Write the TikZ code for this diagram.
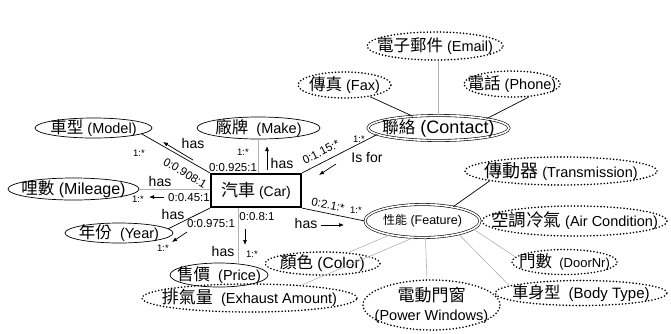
\documentclass[tikz,border=0pt]{standalone}
\usepackage{fontspec}
\setmainfont{Liberation Sans}
\newfontfamily\cjk{Noto Sans CJK TC}
\usetikzlibrary{shapes.geometric,arrows.meta}
\newcommand\zh[2][16.5]{{\cjk\fontsize{#1}{#1}\selectfont #2}}
\tikzset{
 ell/.style={ellipse, draw, line width=0.7pt, inner sep=0pt},
 dbl/.style={ellipse, draw, double, double distance=1.6pt, line width=0.6pt, inner sep=0pt},
 dotell/.style={ellipse, draw, line width=1.8pt, line cap=round, dash pattern=on 0pt off 3.3pt, inner sep=0pt},
 blk/.style={line width=0.7pt},
 gry/.style={line width=0.6pt, draw=black!30},
 arr/.style={-{Latex[length=5pt,width=4pt]}, line width=0.7pt},
 hs/.style={font=\fontsize{14}{16}\selectfont, inner sep=0pt},
 num/.style={font=\fontsize{11.5}{13}\selectfont, inner sep=0pt},
 card/.style={font=\fontsize{9.5}{11}\selectfont, inner sep=0pt},
 every label/.style={font=\fontsize{14.5}{16}\selectfont},
}
\begin{document}
\begin{tikzpicture}[x=1pt, y=-1pt, font=\fontsize{14.5}{16}\selectfont]
\useasboundingbox (0,0) rectangle (671,333);
% main node
\node[draw, line width=2.2pt, minimum width=90pt, minimum height=33pt, inner sep=0pt, font=\fontsize{14}{16}\selectfont] (car) at (256,190.5) {\zh[17]{汽車} (Car)};
% attribute ellipses
\node[ell, minimum width=117pt, minimum height=20pt, label={center:\zh{車型} (Model)}] (model) at (93.5,128) {};
\node[ell, minimum width=123pt, minimum height=22pt, label={center:\zh{廠牌}~ (Make)}] (make) at (258.5,128) {};
\node[ell, minimum width=131pt, minimum height=22pt, label={[font=\fontsize{16}{18}\selectfont]center:\zh{哩數} (Mileage)}] (mileage) at (73.5,189) {};
\node[ell, minimum width=108pt, minimum height=20pt, label={center:\zh{年份}~ (Year)}] (year) at (119,233) {};
\node[ell, minimum width=98pt, minimum height=24pt, label={center:\zh{售價}~ (Price)}] (price) at (219,275) {};
\node[dbl, minimum width=141pt, minimum height=25pt, label={[font=\fontsize{18}{20}\selectfont]center:\zh[16.5]{聯絡} (Contact)}] (contact) at (438.5,128) {};
\node[dbl, minimum width=115pt, minimum height=33pt, label={[font=\fontsize{12.5}{14}\selectfont]center:\zh[12]{性能} (Feature)}] (feature) at (422.5,221) {};
% dotted ellipses
\node[dotell, minimum width=136pt, minimum height=28pt, label={center:\zh{電子郵件} (Email)}] (email) at (435,46) {};
\node[dotell, minimum width=93pt, minimum height=26pt, label={center:\zh{傳真} (Fax)}] (fax) at (344.5,85) {};
\node[dotell, minimum width=96pt, minimum height=26pt, label={center:\zh{電話} (Phone)}] (phone) at (512,84) {};
\node[dotell, minimum width=192pt, minimum height=28pt, label={center:\zh[18]{傳動器} (Transmission)}] (trans) at (561,171) {};
\node[dotell, minimum width=185pt, minimum height=30pt, label={center:\zh[17.5]{空調冷氣} (Air Condition)}] (aircond) at (574.5,221) {};
\node[dotell, minimum width=105pt, minimum height=25pt, label={[font=\fontsize{13}{15}\selectfont]center:\zh{門數}~ (DoorNr)}] (door) at (564.5,262) {};
\node[dotell, minimum width=172pt, minimum height=25pt, label={[font=\fontsize{15}{17}\selectfont]center:\zh[16]{車身型}~ (Body Type)}] (body) at (581,293) {};
\node[dotell, minimum width=137pt, minimum height=50pt, label={[align=center, font=\fontsize{14.5}{19}\selectfont]center:\zh[17]{電動門窗}\\(Power Windows)}] (pw) at (431.5,305) {};
\node[dotell, minimum width=115pt, minimum height=23pt, label={[font=\fontsize{15.5}{17}\selectfont]center:\zh{顏色} (Color)}] (color) at (322.5,263.5) {};
\node[dotell, minimum width=215pt, minimum height=28pt, label={center:\zh[17]{排氣量}~ (Exhaust Amount)}] (exhaust) at (249.5,298) {};
% connectors from car
\draw[blk] (car.north west) -- (model.-7);
\draw[gry] (make.south) -- (make.south |- car.north);
\draw[gry] (mileage.east) -- (mileage.east -| car.west);
\draw[blk] (car.south west) -- (year.5);
\draw[gry] ([xshift=-18pt]car.south) -- ([xshift=-18pt]car.south |- price.north);
\draw[blk] (car.north east) -- (contact.186);
\draw[blk] (car.south east) -- (feature.west);
% contact sub-attributes
\draw[blk] (fax) -- (contact);
\draw[gry] (contact.north |- email.south) -- (contact.north);
\draw[blk] (phone.-38) -- (contact.11);
% feature sub-attributes
\draw[blk] (feature.25) -- (trans.188);
\draw[gry] (feature.east) -- (aircond.west);
\draw[gry] (feature.-9) -- (door.174);
\draw[gry] (feature.-20) -- (body.174);
\draw[gry] (feature.-80) -- (pw.100);
\draw[gry] (feature.-118) -- (exhaust.14);
\draw[gry] (feature) -- (color);
% labels: model
\node[card] (c1) at (139,153) {1:*};
\node[num, rotate=-31] (n1) at (185,173) {0:0.908:1};
\node[hs] (h1) at (193,143) {has};
\draw[arr] (193,160) -- (163,142);
% make
\node[card] (c2) at (243,152) {1:*};
\node[num] (n2) at (233,168) {0:0.925:1};
\node[hs] (h2) at (282,163) {has};
\draw[arr] (267,170) -- (267,146);
% mileage
\node[hs] (h3) at (160,181) {has};
\node[card] (c3) at (138,199) {1:*};
\draw[arr] (164,197) -- (149,197);
\node[num] (n3) at (189,198) {0:0.45:1};
% year
\node[hs] (h4) at (173,214) {has};
\node[num] (n4) at (211,224) {0:0.975:1};
\draw[arr] (187,232) -- (172,242);
\node[card] (c4) at (163,248) {1:*};
% price
\node[num] (n5) at (257,217) {0:0.8:1};
\draw[arr] (245,229) -- (245,245);
\node[hs] (h5) at (223,251) {has};
\node[card] (c5) at (252,254) {1:*};
% contact
\node[num, rotate=27] (n6) at (321,152) {0:1.15:*};
\node[card] (c6) at (359,139) {1:*};
\node[hs] (h6) at (367,157) {Is for};
\draw[arr] (336,164) -- (319,175);
% feature
\node[num, rotate=-11] (n7) at (328,205) {0:2.1:*};
\node[card] (c7) at (356,210) {1:*};
\node[hs] (h7) at (306,223) {has};
\draw[arr] (321,225) -- (344,225);
\end{tikzpicture}
\end{document}
